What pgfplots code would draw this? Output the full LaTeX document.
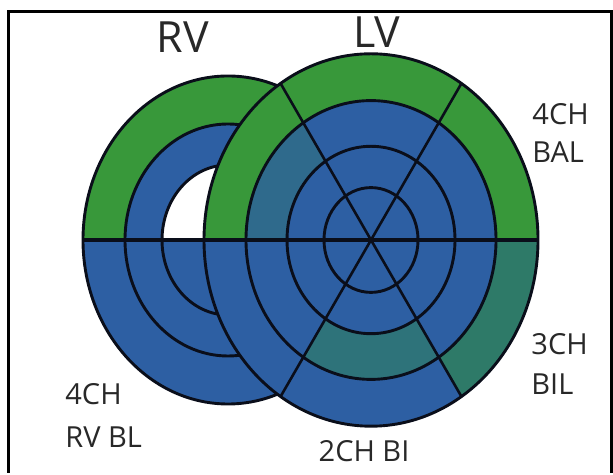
\documentclass[border=0pt]{standalone}
\usepackage{pgfplots}
\pgfplotsset{compat=1.18}
\usepackage{fontspec}
\setmainfont{Open Sans}
\definecolor{cg}{RGB}{56,152,58}
\definecolor{cb}{RGB}{45,95,163}
\definecolor{ct}{RGB}{46,122,104}
\definecolor{ct2}{RGB}{46,115,122}
\definecolor{ctb}{RGB}{47,106,140}
\definecolor{ln}{RGB}{10,14,26}
\definecolor{tc}{RGB}{40,40,40}
\newcommand{\lvwedge}[7]{%
\begin{scope}
\clip (axis cs:371,233) -- (axis cs:#1) -- (axis cs:#2) -- (axis cs:#3) -- cycle;
\fill[#4] (axis cs:371,233) ellipse[x radius=83.5pt,y radius=93.1pt];
\fill[#5] (axis cs:371,233) ellipse[x radius=62.5pt,y radius=69.7pt];
\fill[#6] (axis cs:371,233) ellipse[x radius=42pt,y radius=46.85pt];
\fill[#7] (axis cs:371,233) ellipse[x radius=23.5pt,y radius=26.2pt];
\end{scope}}
\begin{document}
\begin{tikzpicture}
\begin{axis}[
  scale only axis, width=306.5pt, height=236.5pt,
  xmin=0, xmax=613, ymin=0, ymax=473,
  axis lines=none, clip=false,
]
\path (axis cs:0,0) rectangle (axis cs:613,473);
% ---- RV ----
\begin{scope}
\clip (axis cs:0,233) rectangle (axis cs:613,473);
\fill[cg] (axis cs:228,233) ellipse[x radius=72.5pt, y radius=82pt];
\fill[cb] (axis cs:228,233) ellipse[x radius=51.5pt, y radius=58pt];
\fill[white] (axis cs:228,233) ellipse[x radius=33pt, y radius=37.5pt];
\end{scope}
\begin{scope}
\clip (axis cs:0,0) rectangle (axis cs:613,233);
\fill[cb] (axis cs:228,233) ellipse[x radius=72.5pt, y radius=82pt];
\end{scope}
\draw[ln, line width=1.45pt] (axis cs:228,233) ellipse[x radius=72.5pt, y radius=82pt];
\draw[ln, line width=1.45pt] (axis cs:228,233) ellipse[x radius=51.5pt, y radius=58pt];
\draw[ln, line width=1.45pt] (axis cs:228,233) ellipse[x radius=33pt, y radius=37.5pt];
% ---- LV ----
\lvwedge{591,233}{561.5,343}{481,423.5}{cg}{cb}{cb}{cb}
\lvwedge{481,423.5}{371,453}{261,423.5}{cg}{cb}{cb}{cb}
\lvwedge{261,423.5}{180.5,343}{151,233}{cg}{ctb}{cb}{cb}
\lvwedge{151,233}{180.5,123}{261,42.5}{cb}{cb}{cb}{cb}
\lvwedge{261,42.5}{371,13}{481,42.5}{cb}{ct2}{cb}{cb}
\lvwedge{481,42.5}{561.5,123}{591,233}{ct}{cb}{cb}{cb}
\draw[ln, line width=1.45pt] (axis cs:371,233) ellipse[x radius=83.5pt,y radius=93.1pt];
\draw[ln, line width=1.45pt] (axis cs:371,233) ellipse[x radius=62.5pt,y radius=69.7pt];
\draw[ln, line width=1.45pt] (axis cs:371,233) ellipse[x radius=42pt,y radius=46.85pt];
\draw[ln, line width=1.45pt] (axis cs:371,233) ellipse[x radius=23.5pt,y radius=26.2pt];
\addplot[ln, line width=1.3pt] coordinates {(280.6,76.5) (461.4,389.5)};
\addplot[ln, line width=1.3pt] coordinates {(280.6,389.5) (461.4,76.5)};
\addplot[ln, line width=1.6pt] coordinates {(83,233) (538,233)};
% ---- frame ----
\addplot[black, line width=1.5pt] coordinates {(8,0) (8,461) (611,461) (611,0)};
% ---- labels ----
\node[anchor=base, text=tc, font=\fontsize{21.5}{24}\selectfont] at (axis cs:183,420) {RV};
\node[anchor=base, text=tc, font=\fontsize{21.5}{24}\selectfont] at (axis cs:377,425) {LV};
\node[anchor=base west, inner sep=0pt, text=tc, font=\fontsize{14.5}{16}\selectfont] at (axis cs:532,348) {4CH};
\node[anchor=base west, inner sep=0pt, text=tc, font=\fontsize{14.5}{16}\selectfont] at (axis cs:532,310) {BAL};
\node[anchor=base west, inner sep=0pt, text=tc, font=\fontsize{14.5}{16}\selectfont] at (axis cs:531,118) {3CH};
\node[anchor=base west, inner sep=0pt, text=tc, font=\fontsize{14.5}{16}\selectfont] at (axis cs:531,78) {BIL};
\node[anchor=base west, inner sep=0pt, text=tc, font=\fontsize{14.5}{16}\selectfont] at (axis cs:65,68) {4CH};
\node[anchor=base west, inner sep=0pt, text=tc, font=\fontsize{14.5}{16}\selectfont] at (axis cs:65,25) {RV BL};
\node[anchor=base, inner sep=0pt, text=tc, font=\fontsize{14.5}{16}\selectfont] at (axis cs:364,11) {2CH BI};
\end{axis}
\end{tikzpicture}
\end{document}
